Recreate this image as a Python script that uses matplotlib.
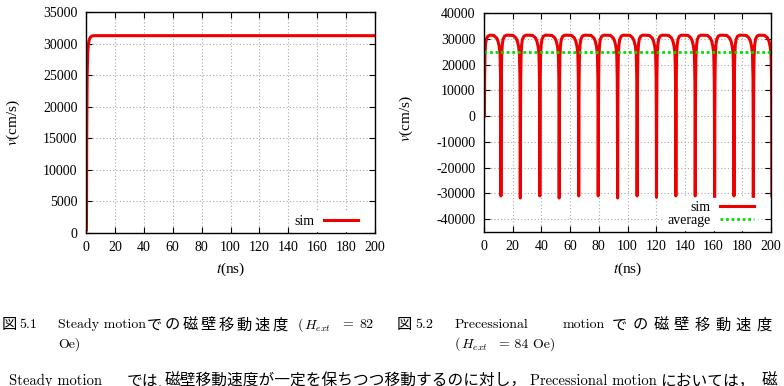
import numpy as np
import matplotlib
matplotlib.use("Agg")
import matplotlib.pyplot as plt

plt.rcParams["path.simplify"] = False
plt.rcParams["axes.unicode_minus"] = False

# ---- data ----
# Fig 5.1 : steady motion
t_steady = [0.3, 0.5, 0.8, 1.2, 1.6, 2.2, 3.0, 4.0, 5.5, 200]
v_steady = [500, 15000, 25000, 28500, 29800, 30600, 31000, 31200, 31250, 31250]

# Fig 5.2 : precessional motion, start of the run
t_start = [0.3, 0.45, 0.7, 1.1, 1.7, 2.7, 4.2]
v_start = [0, 14000, 24000, 28000, 30000, 31000, 31400]
# times and minima of the velocity dips (last one lies just past the axis end)
dip_t = [11.8, 25.3, 38.9, 52.4, 66.0, 79.6, 93.1, 106.7, 120.2, 133.7, 147.2, 160.7, 174.2, 187.7, 200.6]
dip_v = [-31000, -31800, -31000, -31800, -31000, -31000, -31800, -31000, -31500, -31000, -31000, -32600, -31000, -31800, -31000]
# shape of one arch: points before a dip and after a dip (offset in ns, velocity)
fall_dt = [-5.0, -3.0, -2.0, -1.2, -0.6, -0.25, -0.1]
fall_v = [31300, 30300, 29000, 27000, 24000, 15000, 0]
rise_dt = [0.15, 0.3, 0.5, 0.9, 1.5, 2.5, 4.0]
rise_v = [0, 15000, 23000, 27500, 29800, 31000, 31400]
v_average = 24900

x_ticks = [0, 20, 40, 60, 80, 100, 120, 140, 160, 180, 200]
y_ticks_1 = [0, 5000, 10000, 15000, 20000, 25000, 30000, 35000]
y_ticks_2 = [-40000, -30000, -20000, -10000, 0, 10000, 20000, 30000, 40000]

# build the precessional curve
t_prec = list(t_start)
v_prec = list(v_start)
for i in range(len(dip_t)):
    d = dip_t[i]
    t_prec += [d + o for o in fall_dt]
    v_prec += fall_v
    t_prec.append(d)
    v_prec.append(dip_v[i])
    if i < len(dip_t) - 1:
        t_prec += [d + o for o in rise_dt]
        v_prec += rise_v

W, H = 784, 386
fig = plt.figure(figsize=(W / 100, H / 100), dpi=100)
fig.patch.set_facecolor("white")

serif = "Liberation Serif"
red = "#ee0000"
green = "#00e000"


def px_axes(x0, y0, x1, y1):
    return fig.add_axes([x0 / W, 1 - y1 / H, (x1 - x0) / W, (y1 - y0) / H])


def style(ax, yticks, ylim):
    ax.set_xlim(0, 200)
    ax.set_ylim(*ylim)
    ax.set_xticks(x_ticks)
    ax.set_yticks(yticks)
    ax.grid(True, color="#a8a8a8", linestyle=(0, (1, 2)), linewidth=0.8)
    ax.tick_params(direction="in", length=4, top=True, right=True, labelsize=10, pad=6)
    for lab in ax.get_xticklabels() + ax.get_yticklabels():
        lab.set_fontfamily(serif)
    for sp in ax.spines.values():
        sp.set_linewidth(1.0)
    ax.set_xlabel("$t$(ns)", fontsize=11, family=serif, math_fontfamily="stix")
    ax.set_ylabel("$v$(cm/s)", fontsize=11, family=serif, math_fontfamily="stix")


def add_legend(ax, right_frac, bottom_frac):
    ax.legend(loc="lower right", bbox_to_anchor=(1 - right_frac, bottom_frac), markerfirst=False,
              fancybox=False, framealpha=1, edgecolor="white", handlelength=2.5,
              handletextpad=0.65, borderaxespad=0, borderpad=0.2, labelspacing=0.05,
              prop={"family": serif, "size": 10})


# left plot
ax1 = px_axes(86, 12, 375, 233)
ax1.plot(t_steady, v_steady, color=red, lw=2.2, label="sim")
style(ax1, y_ticks_1, (0, 35000))
ax1.yaxis.set_label_coords(-0.22, 0.5)
ax1.xaxis.set_label_coords(0.5, -0.125)
add_legend(ax1, 14 / 289, 2 / 221)

# right plot
ax2 = px_axes(484, 13, 771, 232)
ax2.plot(t_prec, v_prec, color=red, lw=2.2, label="sim")
ax2.axhline(v_average, color=green, lw=2.0, linestyle=(0, (1, 1)), label="average")
style(ax2, y_ticks_2, (-45000, 40000))
ax2.yaxis.set_label_coords(-0.24, 0.52)
ax2.xaxis.set_label_coords(0.5, -0.13)
add_legend(ax2, 14 / 287, 2 / 219)

# ---- captions ----
cm = "cmr10"
jp = "Noto Sans CJK JP"


def put(x, y, s, fam=cm, size=10, **kw):
    fig.text(x / W, 1 - y / H, s, family=fam, fontsize=size, va="center", ha="left",
             math_fontfamily="cm", **kw)


def spaced(x, y, s, pitch, size=11):
    for i, ch in enumerate(s):
        put(x + i * pitch, y, ch, fam=jp, size=size)


# caption 5.1
put(2, 325, "図", fam=jp, size=11)
put(19, 325, "5.1")
put(58, 325, "Steady motion")
spaced(147, 325, "での磁壁移動速度", 17.9)
put(298, 325, "(")
put(304, 326, "$H_{ext}$")
put(342, 325, "=")
put(359, 325, "82")
put(58, 344, "Oe)")

# caption 5.2
put(397, 325, "図", fam=jp, size=11)
put(415, 325, "5.2")
put(455, 325, "Precessional")
put(563, 325, "motion")
spaced(612, 325, "での磁壁移動速度", 20.6)
put(455, 344, "(")
put(461, 345, "$H_{ext}$")
put(499, 344, "= 84 Oe)")

# body text (cut by the bottom edge)
put(9, 381, "Steady motion", size=10.5)
put(127, 381, "では", fam=jp, size=11.3)
put(158, 383, ",", size=10.5)
put(165, 381, "磁壁移動速度が一定を保ちつつ移動するのに対し，", fam=jp, size=11.3)
put(530, 381, "Precessional motion", size=10.5)
put(660, 381, "においては，", fam=jp, size=11.3)
put(762, 381, "磁", fam=jp, size=11.3)

fig.savefig("out.png", dpi=100)
